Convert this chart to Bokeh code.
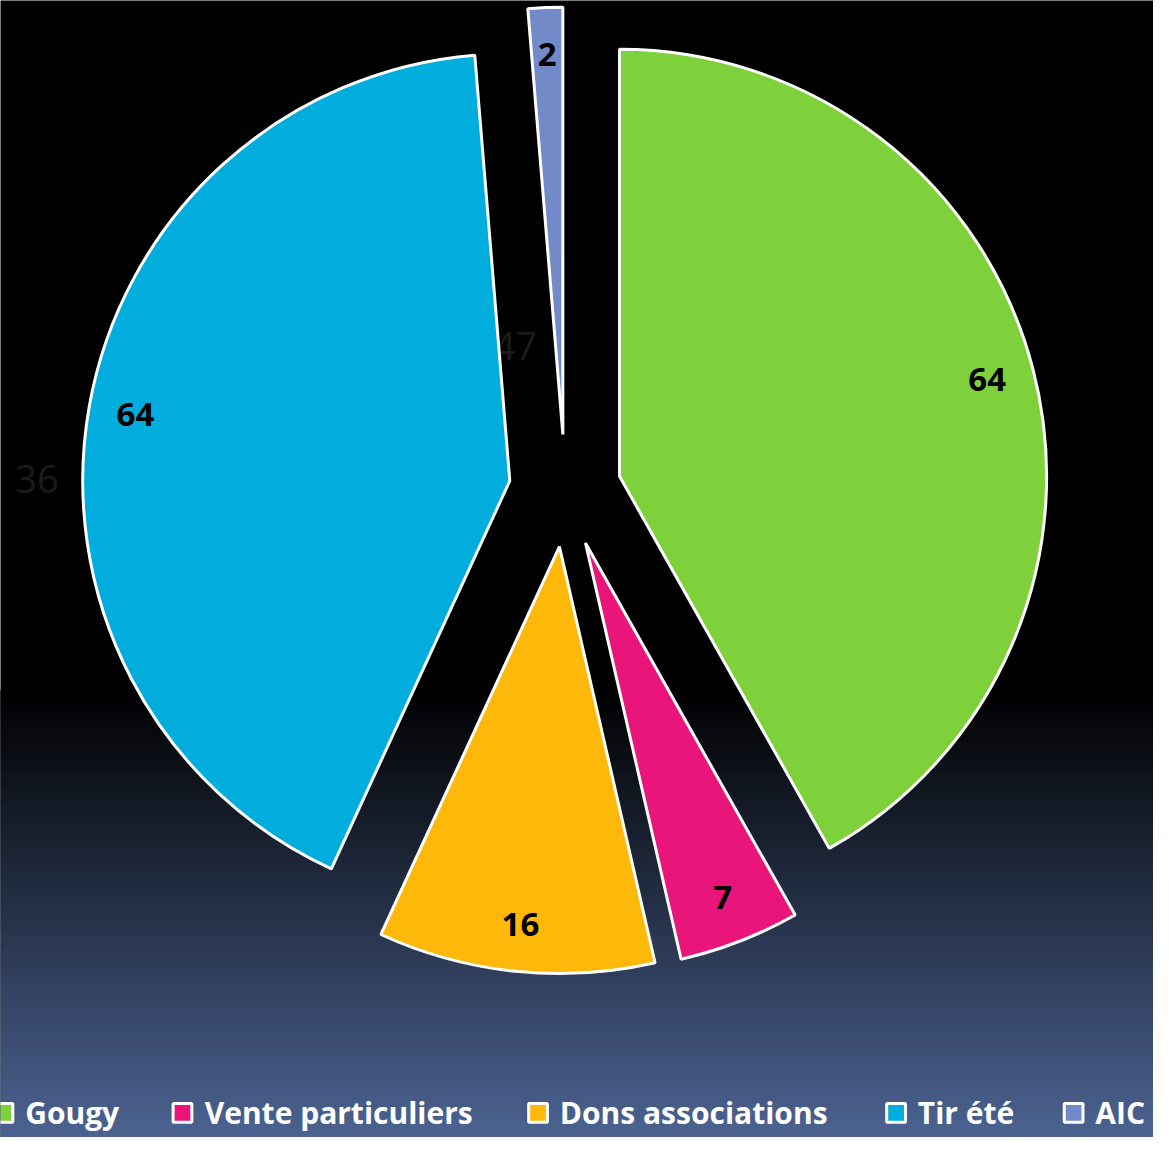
import numpy as np
from bokeh.plotting import figure
from bokeh.models import Range1d, ColumnDataSource
from bokeh.embed import file_html
from bokeh.resources import INLINE
from bokeh.core.properties import value

# ---- data ----
categories = ["Gougy", "Vente particuliers", "Dons associations", "Tir été", "AIC"]
values = [64, 7, 16, 64, 2]
colors = ["#7FD13B", "#EA157A", "#FEB80A", "#00ADDC", "#738AC8"]
ghost_labels = ["47", "36"]

# ---- layout (reference pixel space, y measured from top) ----
W, H = 1169, 1153
CX, CY = 572.5, H - 497
R = 433
EXPLODE = 57
LABEL_FRAC = 0.89
FONT = "Open Sans"
legend_square_x = [3, 184.5, 545, 908, 1088]
legend_text_x = [25, 207, 567, 930, 1110]
legend_y = H - 1128
ghost_pos = [(522, H - 350), (37, H - 485)]

vals = np.array(values, float)
frac = vals / vals.sum()
cum = np.concatenate([[0.0], np.cumsum(frac)])
start = np.pi / 2 - 2 * np.pi * cum[:-1]
end = np.pi / 2 - 2 * np.pi * cum[1:]
mid = (start + end) / 2
x0 = CX + EXPLODE * np.cos(mid)
y0 = CY + EXPLODE * np.sin(mid)
lx = x0 + LABEL_FRAC * R * np.cos(mid)
ly = y0 + LABEL_FRAC * R * np.sin(mid)

src = ColumnDataSource(dict(x=x0, y=y0, start=start, end=end, color=colors,
                            lx=lx, ly=ly, label=[str(v) for v in values]))

p = figure(width=1153, height=1137, x_range=Range1d(0, W), y_range=Range1d(0, H),
           output_backend="svg", toolbar_location=None,
           x_axis_location=None, y_axis_location=None, min_border=0)
p.grid.visible = False
p.outline_line_color = None
p.background_fill_color = "#000000"
p.border_fill_color = "#000000"

# background gradient (black -> slate blue towards the bottom)
ys = np.arange(700, H + 4, 2.0)
t = np.clip((ys - 700) / (H - 700), 0, 1)
top_c = np.array([0, 0, 0])
bot_c = np.array([76, 99, 145])
gcols = ["#%02x%02x%02x" % tuple(int(round(c)) for c in (top_c + (bot_c - top_c) * tt)) for tt in t]
p.quad(left=-10, right=W + 10, top=H - ys + 1.2, bottom=H - ys - 2, fill_color=gcols, line_color=None)

# faint ghost labels
p.text(x=[g[0] for g in ghost_pos], y=[g[1] for g in ghost_pos], text=ghost_labels,
       text_font=value(FONT), text_font_size="38px", text_color="#1b1b1b",
       text_align="center", text_baseline="middle")

# pie slices
p.wedge(x="x", y="y", radius=R, start_angle="start", end_angle="end", direction="clock",
        fill_color="color", line_color="white", line_width=3, source=src)

# data labels
p.text(x="lx", y="ly", text="label", source=src, text_font=value(FONT), text_font_style="bold",
       text_font_size="33px", text_color="#000000", text_align="center", text_baseline="middle")

# legend
p.rect(x=legend_square_x, y=legend_y, width=19, height=19, fill_color=colors,
       line_color="white", line_width=3)
p.text(x=legend_text_x, y=legend_y, text=categories, text_font=value(FONT), text_font_style="bold",
       text_font_size="30px", text_color="white", text_align="left", text_baseline="middle")

open("out.html", "w").write(file_html(p, INLINE))
